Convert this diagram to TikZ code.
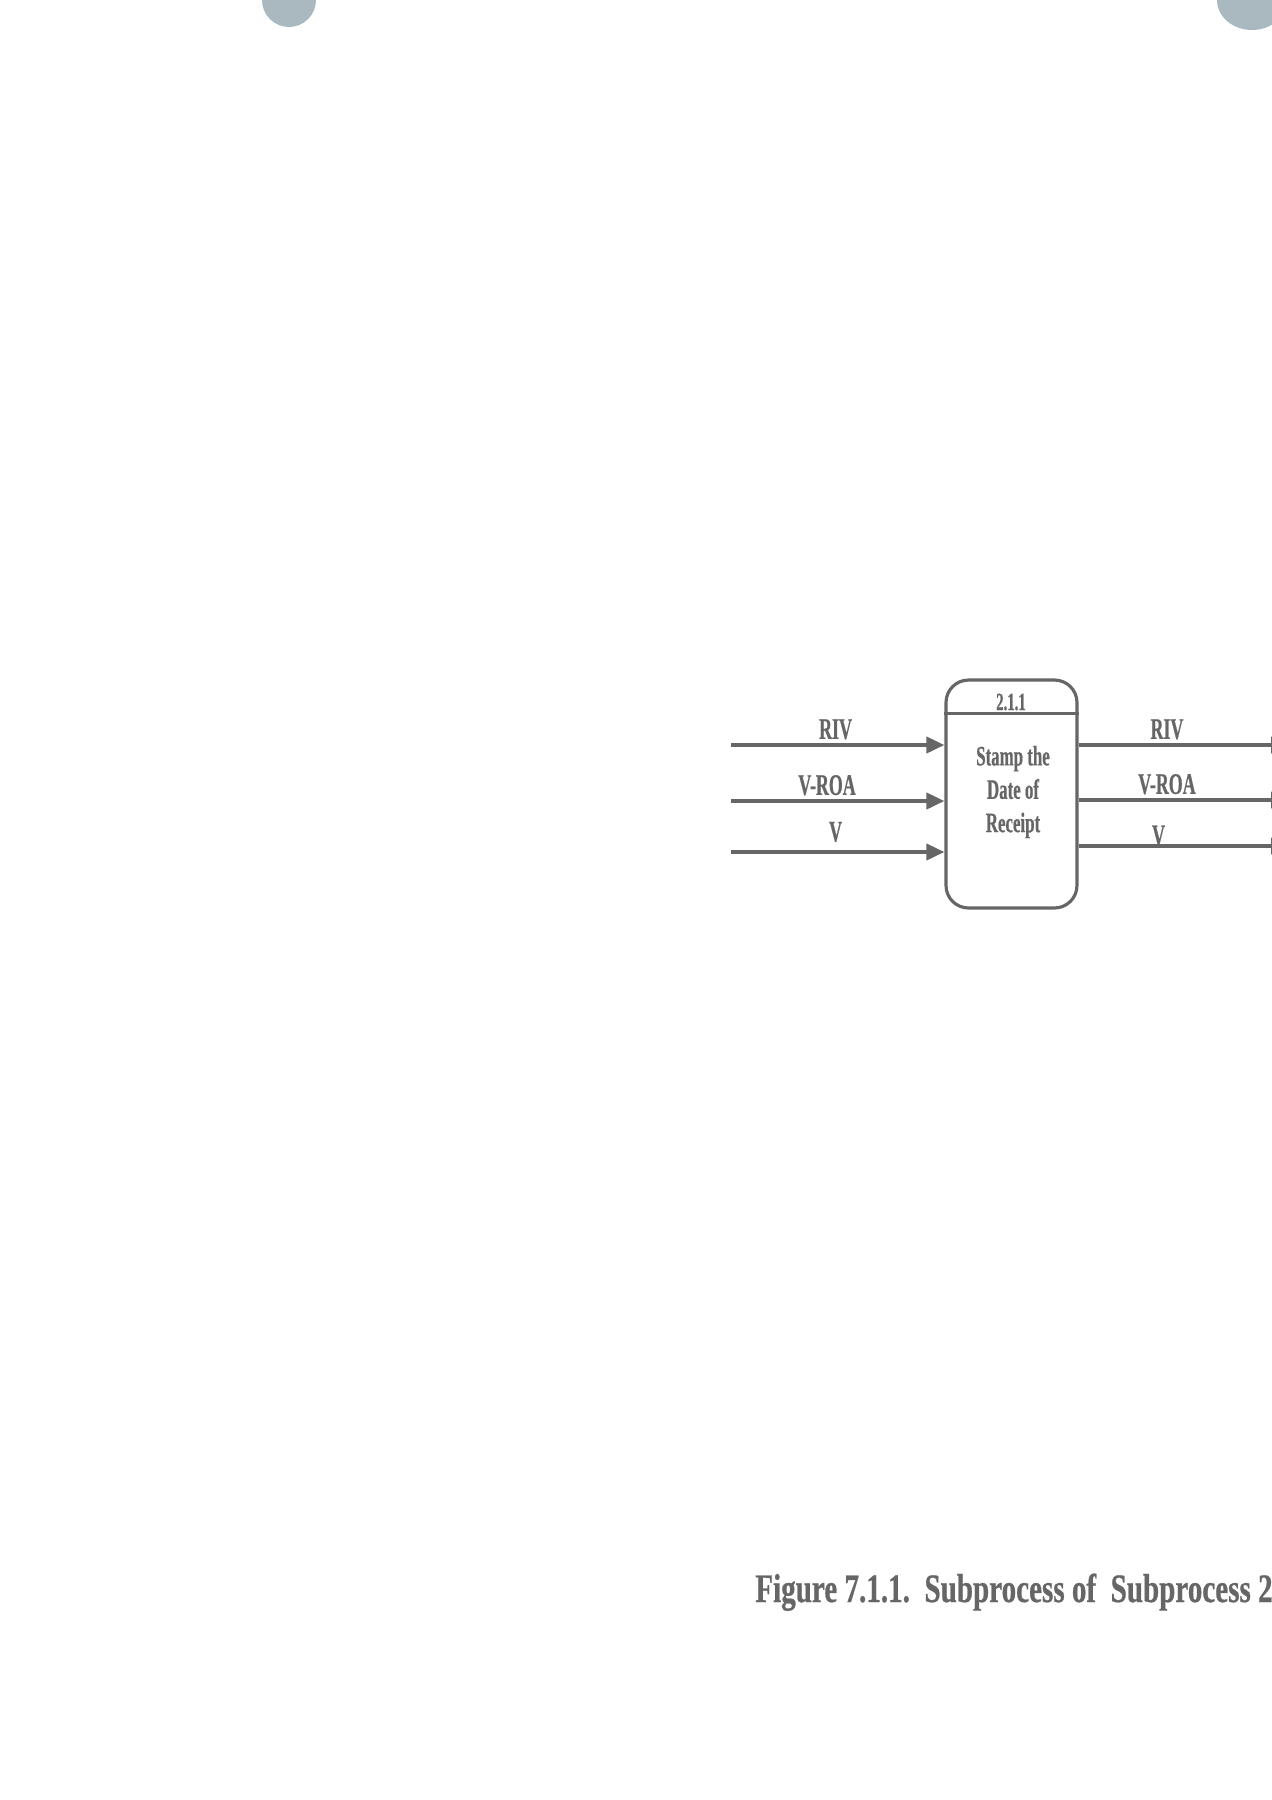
\documentclass[tikz,border=0pt]{standalone}
\usepackage{fontspec}
\usepackage{xcolor}
\usepackage{tikz}
\usetikzlibrary{arrows.meta,positioning,calc}
\newfontfamily\scanfont[FakeStretch=0.6, FakeBold=0.6]{Liberation Serif}
\newfontfamily\capfont[FakeStretch=0.72, FakeBold=0.6]{Liberation Serif}
\definecolor{inkgrey}{HTML}{666666}
\definecolor{holegrey}{HTML}{A9B9BF}

\begin{document}
\begin{tikzpicture}[x=0.02cm, y=-0.02cm,
  font=\scanfont\bfseries,
  flow/.style={-{Triangle[length=3.6mm, width=3.2mm]}, line width=2.2pt, draw=inkgrey},
  proc/.style={draw=inkgrey, line width=1.8pt, rounded corners=4.5mm, minimum width=2.62cm, minimum height=4.56cm, inner sep=0pt},
  lbl/.style={text=inkgrey, font=\scanfont\bfseries\fontsize{17}{19}\selectfont, inner sep=0pt, anchor=base}]
\useasboundingbox (0,0) rectangle (1272,1800);
% punch holes of the scanned page
\fill[holegrey] (289,0) ellipse [x radius=27, y radius=27];
\fill[holegrey] (1252,0) ellipse [x radius=35, y radius=30];
% process 2.1.1
\node[proc] (stamp) at (1011.5,794) {};
\draw[inkgrey, line width=1.6pt] ($(stamp.north west)+(0,35)$) -- ($(stamp.north east)+(0,35)$);
\node[lbl, font=\scanfont\bfseries\fontsize{14}{16}\selectfont] (num) at (1011,710) {2.1.1};
\node[text=inkgrey, align=center, inner sep=0pt, font=\scanfont\bfseries\fontsize{16}{19}\selectfont] (task) at (1013,792) {Stamp the\\Date of\\Receipt};
% incoming and outgoing flows
\coordinate (rivin) at (731,745);
\coordinate (roain) at (731,801);
\coordinate (vin) at (731,852);
\coordinate (rivout) at (1289,745);
\coordinate (roaout) at (1289,800);
\coordinate (vout) at (1289,846);
\draw[flow] (rivin) -- (stamp.west |- rivin) node[lbl, pos=0.49, yshift=3.5pt] {RIV};
\draw[flow] (roain) -- (stamp.west |- roain) node[lbl, pos=0.45, yshift=3.5pt] {V-ROA};
\draw[flow] (vin) -- (stamp.west |- vin) node[lbl, pos=0.49, yshift=6pt] {V};
\draw[flow] (stamp.east |- rivout) -- (rivout) node[lbl, pos=0.42, yshift=3.5pt] {RIV};
\draw[flow] (stamp.east |- roaout) -- (roaout) node[lbl, pos=0.42, yshift=3.5pt] {V-ROA};
\draw[flow] (stamp.east |- vout) -- (vout) node[lbl, pos=0.38, yshift=0.5pt] {V};
% caption
\node[anchor=base west, text=inkgrey, inner sep=0pt, font=\capfont\bfseries\fontsize{23}{26}\selectfont] (caption) at (755,1602) {Figure 7.1.1.\ \ Subprocess of\ \ Subprocess 2.1};
\end{tikzpicture}
\end{document}
